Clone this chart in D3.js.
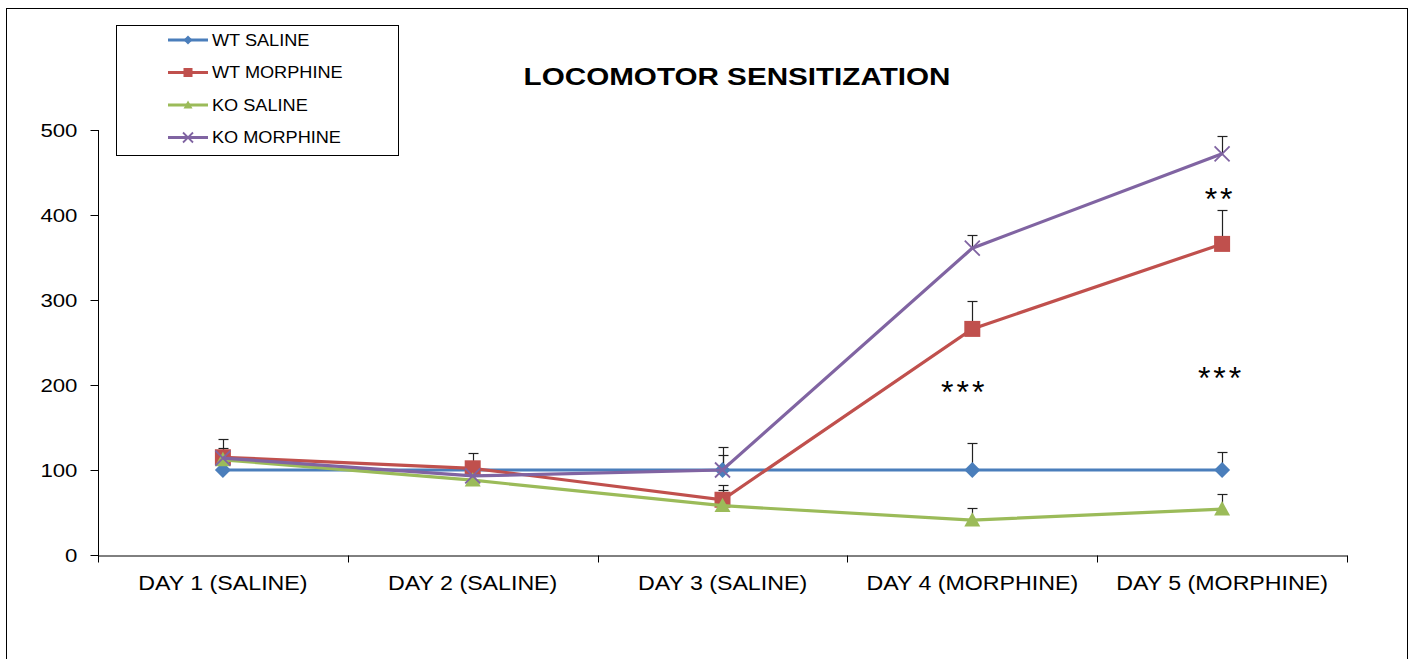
<!DOCTYPE html>
<html>
<head>
<meta charset="utf-8">
<script src="https://cdn.jsdelivr.net/npm/d3@7"></script>
<style>
    body { margin: 0; background: #fff; }
    text { font-family: "Liberation Sans", Arial, sans-serif; }
</style>
</head>
<body>
<div id="chart"></div>
<script>
const days = ["DAY 1 (SALINE)", "DAY 2 (SALINE)", "DAY 3 (SALINE)", "DAY 4 (MORPHINE)", "DAY 5 (MORPHINE)"]
const yTicks = [0, 100, 200, 300, 400, 500]

const wtSaline = [100, 100, 100, 100, 100]
const wtSalineErr = [0, 0, 18, 32, 21]
const wtMorphine = [115, 102, 65, 266, 366]
const wtMorphineErr = [21, 18, 17, 33, 40]
const koSaline = [112, 88, 58, 41, 54]
const koSalineErr = [0, 0, 18, 14, 18]
const koMorphine = [114, 93, 100, 361, 472]
const koMorphineErr = [12, 0, 27, 16, 21]

const seriesNames = ["WT SALINE", "WT MORPHINE", "KO SALINE", "KO MORPHINE"]
const seriesColors = ["#4a7ebb", "#c0504d", "#9bbb59", "#8064a2"]
const seriesShapes = ["diamond", "square", "triangle", "cross"]

// significance marks: day index, value where they sit, label
const sigDays = [3, 4, 4]
const sigValues = [198, 214, 425]
const sigLabels = ["***", "***", "**"]

const series = seriesNames.map((name, i) => ({
    name: name,
    color: seriesColors[i],
    shape: seriesShapes[i],
    values: [wtSaline, wtMorphine, koSaline, koMorphine][i],
    errs: [wtSalineErr, wtMorphineErr, koSalineErr, koMorphineErr][i]
}))

const W = 1414, H = 659
const svg = d3.select("#chart").append("svg")
    .attr("width", W)
    .attr("height", H)

// outer frame
svg.append("rect")
    .attr("x", 6.5).attr("y", 8.5)
    .attr("width", 1401).attr("height", 700)
    .attr("fill", "none")
    .attr("stroke", "#000")
    .attr("stroke-width", 1)

const x = d3.scaleBand().domain(days).range([98, 1347])
const y = d3.scaleLinear().domain([0, 500]).range([555, 130])
const cx = d => x(d) + x.bandwidth() / 2

// y axis
const yAxis = d3.axisLeft(y).tickValues(yTicks).tickSizeOuter(0).tickSize(8)
const gy = svg.append("g")
    .attr("transform", "translate(98.5,0)")
    .call(yAxis)
gy.select(".domain").attr("stroke", "#000").attr("d", "M0,130V562")
gy.selectAll(".tick line").attr("stroke", "#000")
gy.selectAll(".tick text")
    .attr("font-size", 19)
    .attr("fill", "#000")
    .attr("x", -18)
    .attr("dy", "0.36em")
    .attr("transform", "scale(1.17,1)")

// x axis: labels centred, ticks at category boundaries
const xAxis = d3.axisBottom(x).tickSize(0).tickPadding(20).tickSizeOuter(0)
const gx = svg.append("g")
    .attr("transform", "translate(0,555.5)")
    .call(xAxis)
gx.select(".domain").attr("stroke", "#000")
gx.selectAll(".tick text")
    .attr("font-size", 20)
    .attr("fill", "#000")
    .attr("transform", "scale(1.16,1)")
gx.selectAll("line.bound")
    .data(days.map(d => x(d)).concat([x.range()[1]]))
    .enter().append("line")
    .attr("class", "bound")
    .attr("x1", d => Math.round(d) + 0.5).attr("x2", d => Math.round(d) + 0.5)
    .attr("y1", 0).attr("y2", 7)
    .attr("stroke", "#000")

// title
svg.append("text")
    .attr("transform", "translate(737,85) scale(1.235,1)")
    .attr("text-anchor", "middle")
    .attr("font-size", 24)
    .attr("font-weight", "bold")
    .text("LOCOMOTOR SENSITIZATION")

const line = d3.line()
    .x((d, i) => cx(days[i]))
    .y(d => y(d))

const drawMarker = (g, shape, color, px, py, s) => {
    if (shape === "diamond") {
        g.append("path")
            .attr("d", `M${px},${py - s}L${px + s},${py}L${px},${py + s}L${px - s},${py}Z`)
            .attr("fill", color)
    } else if (shape === "square") {
        g.append("rect")
            .attr("x", px - s).attr("y", py - s)
            .attr("width", 2 * s).attr("height", 2 * s)
            .attr("fill", color)
    } else if (shape === "triangle") {
        g.append("path")
            .attr("d", `M${px},${py - s}L${px + s},${py + s * 0.8}L${px - s},${py + s * 0.8}Z`)
            .attr("fill", color)
    } else {
        g.append("path")
            .attr("d", `M${px - s},${py - s}L${px + s},${py + s}M${px - s},${py + s}L${px + s},${py - s}`)
            .attr("stroke", color)
            .attr("stroke-width", 1.8)
            .attr("fill", "none")
    }
}

// error bars (upper only), drawn below lines
const eg = svg.append("g")
series.forEach(s => {
    s.values.forEach((v, i) => {
        if (!s.errs[i]) return
        const px = Math.round(cx(days[i])) + 0.5
        const top = Math.round(y(v + s.errs[i])) + 0.5
        eg.append("line")
            .attr("x1", px).attr("x2", px)
            .attr("y1", y(v)).attr("y2", top)
            .attr("stroke", "#222").attr("stroke-width", 1.2)
        eg.append("line")
            .attr("x1", px - 5).attr("x2", px + 5)
            .attr("y1", top).attr("y2", top)
            .attr("stroke", "#222").attr("stroke-width", 1.2)
    })
})

// lines and markers
const markerSize = {diamond: 8, square: 8, triangle: 8, cross: 7.5}
series.forEach(s => {
    const g = svg.append("g")
    g.append("path")
        .datum(s.values)
        .attr("d", line)
        .attr("fill", "none")
        .attr("stroke", s.color)
        .attr("stroke-width", 3.2)
    s.values.forEach((v, i) => {
        drawMarker(g, s.shape, s.color, cx(days[i]), y(v), markerSize[s.shape])
    })
})

// significance stars (asterisk glyph sits high, so push baseline down)
const sigShift = [-8, -1, -2]
svg.selectAll("text.sig")
    .data(sigLabels)
    .enter().append("text")
    .attr("class", "sig")
    .attr("x", (d, i) => cx(days[sigDays[i]]) + sigShift[i])
    .attr("y", (d, i) => y(sigValues[i]) + 16)
    .attr("text-anchor", "middle")
    .attr("font-family", "DejaVu Sans")
    .attr("font-size", 32)
    .attr("letter-spacing", 3)
    .text(d => d)

// legend
const lg = svg.append("g")
lg.append("rect")
    .attr("x", 116.5).attr("y", 25.5)
    .attr("width", 282).attr("height", 130)
    .attr("fill", "#fff")
    .attr("stroke", "#000")
series.forEach((s, i) => {
    const ly = 40 + i * 32.5
    lg.append("line")
        .attr("x1", 168).attr("x2", 208)
        .attr("y1", ly).attr("y2", ly)
        .attr("stroke", s.color).attr("stroke-width", 3)
    drawMarker(lg, s.shape, s.color, 188, ly, s.shape === "cross" ? 5 : 4.5)
    lg.append("text")
        .attr("transform", `translate(212,${ly}) scale(1.1,1)`)
        .attr("dy", "0.36em")
        .attr("font-size", 16.5)
        .text(s.name)
})
</script>
</body>
</html>
